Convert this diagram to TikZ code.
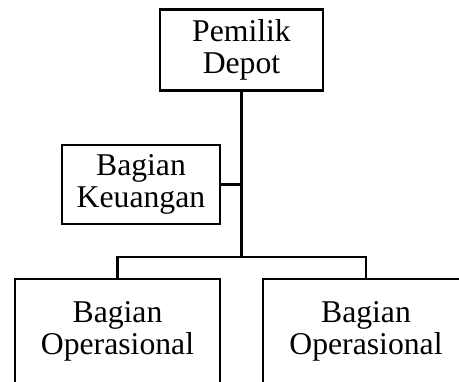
\documentclass[tikz,border=0pt]{standalone}
\usepackage{fontspec}
\setmainfont{Liberation Serif}
\usetikzlibrary{positioning}

\begin{document}
\begin{tikzpicture}[
    x=0.5pt, y=-0.5pt,
    font=\fontsize{15.85}{16}\selectfont,
    unit/.style={draw=black, line width=1.3pt, align=center, inner sep=0pt},
    link/.style={draw=black, line width=1.3pt},
  ]
    % ---- frame ----
    \useasboundingbox (0,0) rectangle (459,381);
    \clip (0,0) rectangle (459,381);
    % ---- units ----
    \node[unit, minimum width=81.5pt, minimum height=40.5pt] (owner) at (241.5,50)  {Pemilik\\Depot};
    \node[unit, minimum width=79pt,   minimum height=39.5pt] (fin)   at (141,184.5) {Bagian\\Keuangan};
    \node[unit, minimum width=102.5pt, minimum height=52pt]  (opl)   at (117.5,331) {Bagian\\Operasional};
    \node[unit, minimum width=103pt,  minimum height=52pt]   (opr)   at (366,331)   {Bagian\\Operasional};
    % ---- lines ----
    \coordinate (bar) at (241.5,257);
    \draw[link] (owner.south) -- (bar);
    \draw[link] (fin.east) -- (fin.east -| owner.south);
    \draw[link] (opl.north) |- (bar) -| (opr.north);
  \end{tikzpicture}
\end{document}
